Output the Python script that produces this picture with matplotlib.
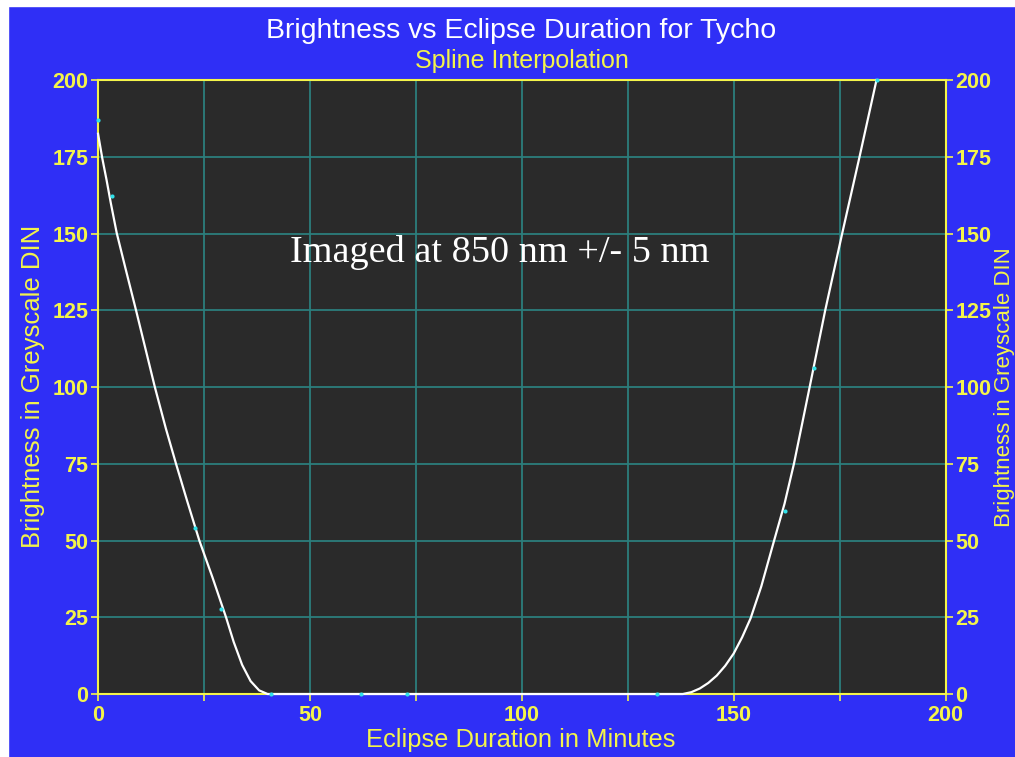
import matplotlib
matplotlib.use("Agg")
import matplotlib.pyplot as plt
from matplotlib.patches import Rectangle

plt.rcParams['font.family'] = ['Liberation Sans', 'DejaVu Sans']

# spline curve
curve_x = [0, 1, 2, 3, 4.4, 6.5, 9, 13.4, 16, 18.4, 21, 23.9, 27, 30.2, 32, 34, 36, 38, 40,
           138, 140, 142, 144, 146, 148, 150, 152, 154, 156.5, 159.5, 162, 164.2, 166, 168,
           171.6, 175.6, 179.7, 183.7]
curve_y = [182.5, 174.5, 167.5, 160, 150.2, 138.5, 124.8, 100, 86.5, 75, 63, 50, 38, 25, 17, 9.5, 4.2, 1.2, 0,
           0, 0.6, 1.8, 3.6, 6.0, 9.2, 13.2, 18.5, 24.7, 35, 49.8, 62, 74.9, 87, 100.5,
           125, 150, 175, 200]

# measured points (cyan dots)
pts_x = [0, 3.2, 22.9, 29.0, 40.8, 62.0, 73.0, 131.9, 162.1, 168.9, 183.9]
pts_y = [187, 162.3, 54.0, 27.6, 0, 0, 0, 0, 59.7, 106.2, 200]

x_ticks = [0, 25, 50, 75, 100, 125, 150, 175, 200]
x_labels = ['0', '', '50', '', '100', '', '150', '', '200']
y_ticks = [0, 25, 50, 75, 100, 125, 150, 175, 200]

blue = '#2f2ff6'
yellow = '#f4f44a'
grid_c = '#2c7e7c'
plot_bg = '#2a2a2a'

fig = plt.figure(figsize=(10.15, 7.57), dpi=100, facecolor=blue)
ax = fig.add_axes([0.0966, 0.0832, 0.835, 0.8111])
ax.set_facecolor(plot_bg)

ax.plot(curve_x, curve_y, color='white', lw=1.6, zorder=5, clip_on=False,
        solid_joinstyle='round')
ax.plot(pts_x, pts_y, 'o', color='#30e0e8', ms=3, mec='none', zorder=6, clip_on=False)

ax.set_xlim(0, 200)
ax.set_ylim(0, 200)
ax.set_xticks(x_ticks)
ax.set_xticklabels(x_labels)
ax.set_yticks(y_ticks)
ax.grid(True, color=grid_c, lw=1.3)
ax.set_axisbelow(True)

for s in ax.spines.values():
    s.set_color(yellow)
    s.set_linewidth(1.5)

ax.tick_params(axis='both', colors=yellow, labelcolor=yellow, direction='out',
               length=5, width=1.2, labelsize=15.5)
ax.tick_params(axis='y', right=True, labelright=True, pad=2)
ax.tick_params(axis='x', pad=3)
for lab in ax.get_xticklabels() + ax.get_yticklabels():
    lab.set_fontweight('bold')
for t in ax.yaxis.get_major_ticks():
    t.label2.set_fontweight('bold')

ax.text(94.8, 143.7, 'Imaged at 850 nm +/- 5 nm', color='white', fontsize=27.5,
        family='Liberation Serif', ha='center', va='center')

fig.text(0.513, 0.959, 'Brightness vs Eclipse Duration for Tycho', color='white',
         fontsize=20.5, ha='center', va='center')
fig.text(0.514, 0.919, 'Spline Interpolation', color=yellow, fontsize=18,
         ha='center', va='center')
fig.text(0.513, 0.0225, 'Eclipse Duration in Minutes', color=yellow, fontsize=18.4,
         ha='center', va='center')
fig.text(0.0325, 0.489, 'Brightness in Greyscale DIN', color=yellow, fontsize=18.5,
         rotation=90, ha='center', va='center')
fig.text(0.9895, 0.489, 'Brightness in Greyscale DIN', color=yellow, fontsize=16,
         rotation=90, ha='center', va='center')

# white strips at top and left edge
fig.patches.append(Rectangle((0, 1 - 6 / 757), 1, 6 / 757, transform=fig.transFigure,
                             color='white', zorder=10))
fig.patches.append(Rectangle((0, 0), 8 / 1015, 1, transform=fig.transFigure,
                             color='white', zorder=10))

fig.savefig('out.png', dpi=100, facecolor=blue)
